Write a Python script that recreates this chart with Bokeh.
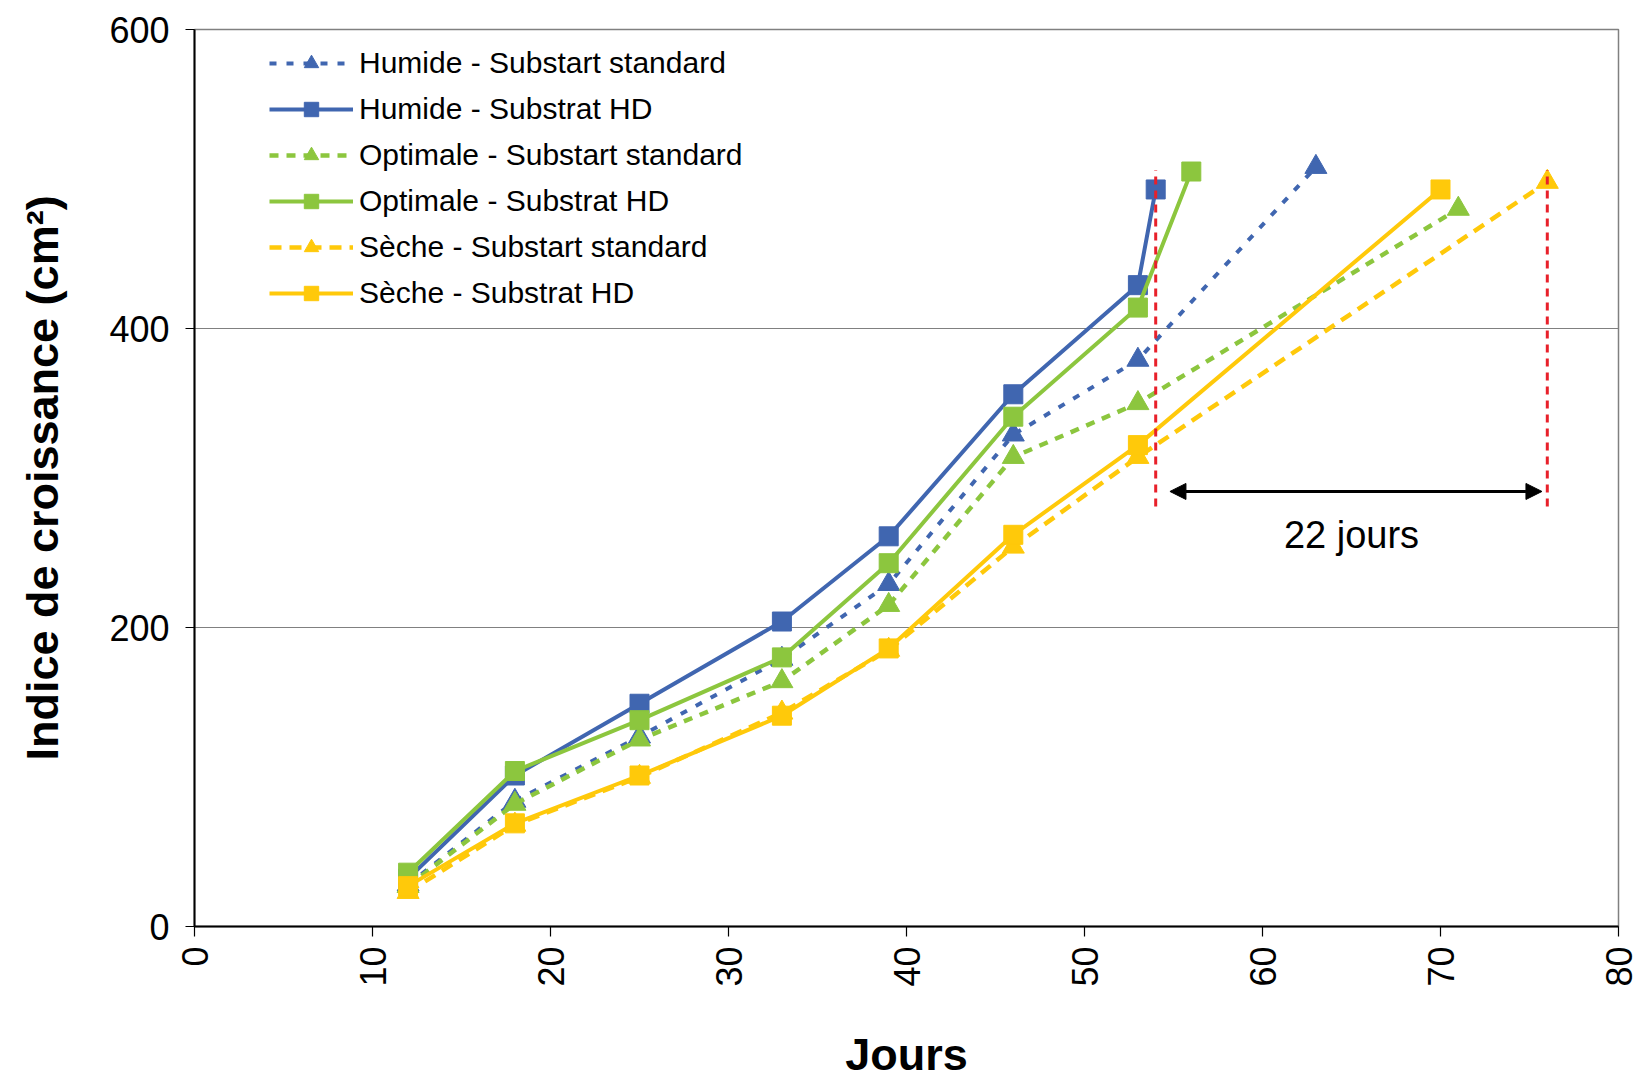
import math
from bokeh.plotting import figure
from bokeh.models import (Range1d, FixedTicker, Legend, LegendItem, Arrow, NormalHead, Label)
from bokeh.embed import file_html
from bokeh.resources import INLINE

# ---- data ----
days_main = [12, 18, 25, 33, 39, 46, 53]

humide_std_days = days_main + [63]
humide_std = [28, 84, 127, 179, 229, 329, 379, 508]

humide_hd_days = days_main + [54]
humide_hd = [32, 101, 149, 204, 261, 356, 429, 493]

optimale_std_days = days_main + [71]
optimale_std = [27, 82, 125, 164, 215, 314, 350, 480]

optimale_hd_days = days_main + [56]
optimale_hd = [36, 104, 138, 180, 243, 341, 414, 505]

seche_std_days = days_main + [76]
seche_std = [23, 68, 100, 143, 185, 254, 314, 498]

seche_hd_days = days_main + [70]
seche_hd = [27, 69, 101, 141, 186, 262, 322, 493]

x_ticks = [0, 10, 20, 30, 40, 50, 60, 70, 80]
y_ticks = [0, 200, 400, 600]

gap_days = [54, 76]
gap_y = [281, 506]
arrow_y = 291
gap_label = "22 jours"
x_title = "Jours"
y_title = "Indice de croissance (cm²)"

BLUE = "#4066B0"
GREEN = "#8CC63E"
YELLOW = "#FFC90A"
RED = "#E8202A"
FONT = "Liberation Sans"

p = figure(width=1640, height=1079, output_backend="svg", toolbar_location=None,
           x_range=Range1d(0, 80), y_range=Range1d(0, 600),
           frame_width=1424, frame_height=897,
           min_border_left=194, min_border_top=29, min_border_right=22, min_border_bottom=153)

p.outline_line_color = "#808080"
p.outline_line_width = 1.5
p.xgrid.grid_line_color = None
p.ygrid.grid_line_color = "#808080"
p.ygrid.grid_line_width = 1.2

p.xaxis.ticker = FixedTicker(ticks=x_ticks)
p.yaxis.ticker = FixedTicker(ticks=y_ticks)
for ax in (p.xaxis, p.yaxis):
    ax.axis_line_color = "black"
    ax.axis_line_width = 2
    ax.major_tick_line_color = "black"
    ax.major_tick_line_width = 1.2
    ax.major_tick_in = 0
    ax.minor_tick_line_color = None
    ax.major_label_text_font = FONT
    ax.major_label_text_font_size = "36px"
    ax.major_label_text_color = "black"
    ax.axis_label_text_font = FONT
    ax.axis_label_text_font_style = "bold"
    ax.axis_label_text_font_size = "45px"
    ax.axis_label_text_color = "black"

p.xaxis.major_tick_out = 10
p.xaxis.major_label_standoff = 10
p.xaxis.major_label_orientation = math.pi / 2
p.xaxis.axis_label = x_title
p.xaxis.axis_label_standoff = 39

p.yaxis.major_tick_out = 9
p.yaxis.major_label_standoff = 16
p.yaxis.axis_label = y_title
p.yaxis.axis_label_standoff = 38

series = [
    ("Humide - Substart standard", humide_std_days, humide_std, BLUE, "7 10", "triangle", 4),
    ("Humide - Substrat HD", humide_hd_days, humide_hd, BLUE, "solid", "square", 4),
    ("Optimale - Substart standard", optimale_std_days, optimale_std, GREEN, "9 8", "triangle", 4.5),
    ("Optimale - Substrat HD", optimale_hd_days, optimale_hd, GREEN, "solid", "square", 4),
    ("Sèche - Substart standard", seche_std_days, seche_std, YELLOW, "12 8", "triangle", 4.5),
    ("Sèche - Substrat HD", seche_hd_days, seche_hd, YELLOW, "solid", "square", 4),
]

items = []
for name, xs, ys, col, dash, marker, lw in series:
    r1 = p.line(xs, ys, line_color=col, line_width=lw, line_dash=dash)
    size = 22 if marker == "triangle" else 19
    r2 = p.scatter(xs, ys, marker=marker, size=size, fill_color=col, line_color=col, line_width=1)
    items.append(LegendItem(label=name, renderers=[r1, r2]))

legend = Legend(items=items, location=(75, 615), margin=0, padding=0,
                glyph_width=84, glyph_height=36, label_height=36, spacing=10,
                label_standoff=6, label_text_font=FONT, label_text_font_size="30px",
                label_text_color="black", border_line_color=None, background_fill_alpha=0)
p.add_layout(legend, "center")

# annotations
p.segment(x0=gap_days, y0=[gap_y[0]] * 2, x1=gap_days, y1=[gap_y[1]] * 2,
          line_color=RED, line_width=3, line_dash="8 6")
p.add_layout(Arrow(x_start=gap_days[0] + 0.8, y_start=arrow_y, x_end=gap_days[1] - 0.3, y_end=arrow_y,
                   line_color="black", line_width=3,
                   start=NormalHead(size=16, fill_color="black", line_color="black"),
                   end=NormalHead(size=16, fill_color="black", line_color="black")))
p.add_layout(Label(x=(gap_days[0] + gap_days[1]) / 2, y=262, text=gap_label,
                   text_font=FONT, text_font_size="38px", text_color="black",
                   text_align="center", text_baseline="middle"))

open("out.html", "w").write(file_html(p, INLINE))
